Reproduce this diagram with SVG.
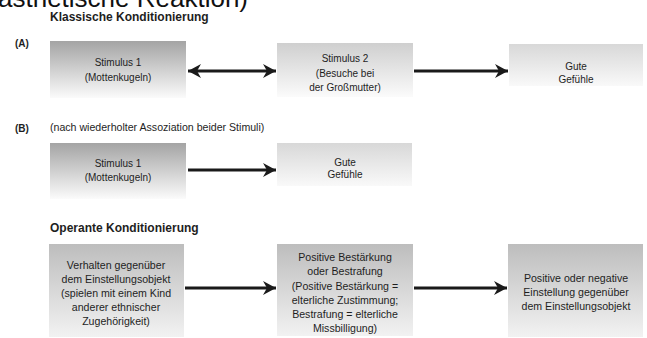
<svg xmlns="http://www.w3.org/2000/svg" width="647" height="338" viewBox="0 0 647 338">
<style>
text{font-family:"Liberation Sans",Arial,sans-serif;fill:#1e1e1e;}
.t{font-size:10px;text-anchor:middle;}
.u{font-size:10.6px;text-anchor:middle;}
.h{font-size:12px;font-weight:bold;}
.l{font-size:10px;}
.c{stroke:#1a1a1a;stroke-width:3;fill:none;}
</style>
<defs>
<linearGradient id="gDark" x1="0" y1="0" x2="0" y2="1"><stop offset="0" stop-color="#a4a4a4"/><stop offset="1" stop-color="#fbfbfb"/></linearGradient>
<linearGradient id="gLight" x1="0" y1="0" x2="0" y2="1"><stop offset="0" stop-color="#cfcfcf"/><stop offset="1" stop-color="#fbfbfb"/></linearGradient>
<linearGradient id="gPale" x1="0" y1="0" x2="0" y2="1"><stop offset="0" stop-color="#d8d8d8"/><stop offset="1" stop-color="#f9f9f9"/></linearGradient>
<linearGradient id="gMid" x1="0" y1="0" x2="0" y2="1"><stop offset="0" stop-color="#bdbdbd"/><stop offset="1" stop-color="#f2f2f2"/></linearGradient>
<marker id="ah" markerUnits="userSpaceOnUse" markerWidth="14" markerHeight="14" refX="13" refY="7" orient="auto-start-reverse"><path d="M0,0 L13,7 L0,14 L4,7 Z" fill="#1a1a1a"/></marker>
</defs>
<text x="-2" y="7" style="font-size:26px;fill:#111;">ästhetische Reaktion)</text>
<text class="h" x="50" y="21">Klassische Konditionierung</text>
<text class="l" x="15" y="47" style="font-weight:bold;">(A)</text>
<text class="l" x="15" y="132" style="font-weight:bold;">(B)</text>
<text class="l" x="50" y="131" style="font-size:10.6px;">(nach wiederholter Assoziation beider Stimuli)</text>
<text class="h" x="50" y="232">Operante Konditionierung</text>
<g id="a1"><rect x="50" y="41" width="136" height="57" fill="url(#gDark)"/><text class="t" x="118" y="66">Stimulus 1</text><text class="t" x="118" y="81">(Mottenkugeln)</text></g>
<g id="a2"><rect x="277" y="43" width="136" height="54" fill="url(#gLight)"/><text class="t" x="345" y="62">Stimulus 2</text><text class="t" x="345" y="77">(Besuche bei</text><text class="t" x="345" y="91">der Großmutter)</text></g>
<g id="a3"><rect x="509" y="44" width="134" height="42" fill="url(#gPale)"/><text class="t" x="576" y="70">Gute</text><text class="t" x="576" y="83">Gefühle</text></g>
<g id="b1"><rect x="50" y="143" width="136" height="56" fill="url(#gDark)"/><text class="t" x="118" y="167">Stimulus 1</text><text class="t" x="118" y="181">(Mottenkugeln)</text></g>
<g id="b2"><rect x="277" y="143" width="135" height="43" fill="url(#gPale)"/><text class="t" x="345" y="166">Gute</text><text class="t" x="345" y="178">Gefühle</text></g>
<g id="c1"><rect x="49" y="244" width="135" height="93" fill="url(#gMid)"/><text class="u" x="116" y="269">Verhalten gegenüber</text><text class="u" x="116" y="283">dem Einstellungsobjekt</text><text class="u" x="116" y="297">(spielen mit einem Kind</text><text class="u" x="116" y="311">anderer ethnischer</text><text class="u" x="116" y="325">Zugehörigkeit)</text></g>
<g id="c2"><rect x="277" y="244" width="136" height="92" fill="url(#gMid)"/><text class="u" x="345" y="261">Positive Bestärkung</text><text class="u" x="345" y="275">oder Bestrafung</text><text class="u" x="345" y="290">(Positive Bestärkung =</text><text class="u" x="345" y="304">elterliche Zustimmung;</text><text class="u" x="345" y="318">Bestrafung = elterliche</text><text class="u" x="345" y="332">Missbilligung)</text></g>
<g id="c3"><rect x="508" y="244" width="135" height="93" fill="url(#gMid)"/><text class="u" x="576" y="282">Positive oder negative</text><text class="u" x="576" y="296">Einstellung gegenüber</text><text class="u" x="576" y="310">dem Einstellungsobjekt</text></g>
<g id="connectors">
<line class="c" x1="188" y1="71" x2="276" y2="71" marker-start="url(#ah)" marker-end="url(#ah)"/>
<line class="c" x1="414" y1="71" x2="508" y2="71" marker-end="url(#ah)"/>
<line class="c" x1="188" y1="170" x2="276" y2="170" marker-end="url(#ah)"/>
<line class="c" x1="185" y1="288" x2="276" y2="288" marker-end="url(#ah)"/>
<line class="c" x1="414" y1="288" x2="507" y2="288" marker-end="url(#ah)"/>
</g>
</svg>
